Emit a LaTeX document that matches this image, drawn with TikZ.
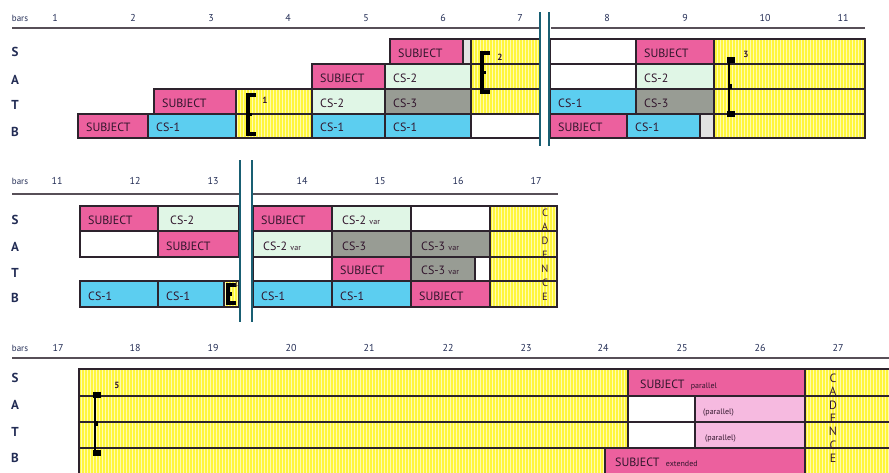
\documentclass[tikz,border=0pt]{standalone}
\usepackage{fontspec}
\setmainfont{PT Sans}
\usetikzlibrary{patterns}

\definecolor{subjc}{RGB}{236,96,158}
\definecolor{csonec}{RGB}{92,206,240}
\definecolor{cstwoc}{RGB}{224,246,230}
\definecolor{csthreec}{RGB}{152,156,148}
\definecolor{epic}{RGB}{255,246,60}
\definecolor{parc}{RGB}{246,186,224}
\definecolor{restc}{RGB}{226,226,226}
\definecolor{inkc}{RGB}{50,22,45}
\definecolor{navyc}{RGB}{35,45,85}
\definecolor{edgec}{RGB}{45,35,45}
\definecolor{barc}{RGB}{25,95,115}

\newcommand\smallword[1]{{\fontsize{8}{8}\selectfont #1}}

\begin{document}
\begin{tikzpicture}[x=1pt, y=-1pt,
    box/.style={draw=edgec, line width=1.1pt},
    blank/.style={box, fill=white},
    subj/.style={box, fill=subjc},
    csone/.style={box, fill=csonec},
    cstwo/.style={box, fill=cstwoc},
    csthree/.style={box, fill=csthreec},
    rest/.style={box, fill=restc},
    parl/.style={box, fill=parc},
    epi/.style={box, preaction={fill=epic},
        pattern=vertical lines, pattern color=white!60!epic},
    rule/.style={draw=edgec!80, line width=1.2pt},
    dbar/.style={draw=barc, line width=1.1pt},
    brk/.style={black, line width=3.2pt},
    lbl/.style={anchor=base west, inner sep=0pt, text=inkc,
        font=\fontsize{12}{12}\selectfont},
    barlbl/.style={inner sep=0pt, text=navyc, font=\fontsize{9}{9}\selectfont},
    barnum/.style={inner sep=0pt, text=navyc, font=\fontsize{10}{10}\selectfont},
    voice/.style={inner sep=0pt, text=navyc, font=\fontsize{13}{13}\bfseries},
    brknum/.style={inner sep=0pt, text=inkc, font=\fontsize{9}{9}\bfseries},
    cadlbl/.style={inner sep=0pt, text=inkc},
]

\useasboundingbox (0,0) rectangle (889,472);

% E-shaped bracket: x, top, bottom
\newcommand\brkE[3]{%
    \draw[brk] ({#1+8},#2) -- (#1,#2) -- (#1,#3) -- ({#1+8},#3);
    \draw[brk] (#1,{(#2+#3)/2}) -- ++(4,0);}
% bracket with square ends: x, top, bottom
\newcommand\brkQ[3]{%
    \draw[black, line width=2pt] (#1,#2) -- (#1,#3);
    \fill[black] ({#1-2},#2) rectangle ++(8,6);
    \fill[black] ({#1-2},{#3-6}) rectangle ++(8,6);
    \fill[black] ({#1-1},{(#2+#3)/2-3}) rectangle ++(4,5);}

% ── System 1 (bars 1-11) ────────────────────────────────────
\node[barlbl] (bars1) at (20,18) {bars};
\foreach \n/\x in {1/55, 2/133, 3/211, 4/288, 5/366, 6/443, 7/520,
                   8/607, 9/685, 10/765, 11/843}
    \node[barnum] (hA\n) at (\x,18) {\n};
\draw[rule] (12,28) -- (539,28);
\draw[rule] (551,28) -- (865,28);

\foreach \v/\y in {S/52, A/80, T/105, B/132}
    \node[voice] (vA\v) at (15,\y) {\v};

% empty boxes
\foreach \st/\xa/\xb/\ya/\yb in {rest/463/471/39/64, blank/471/540/114/138,
        blank/550/636/39/64, blank/550/636/64/89, rest/700/714/114/138,
        epi/236/312/89/114, epi/236/312/114/138,
        epi/471/540/39/64, epi/471/540/64/89, epi/471/540/89/114,
        epi/714/865/39/64, epi/714/865/64/89, epi/714/865/89/114,
        epi/714/865/114/138}
    \draw[\st] (\xa,\ya) rectangle (\xb,\yb);

% labelled entries
\foreach \st/\xa/\xb/\ya/\yb/\t [count=\i] in {
        subj/154/236/89/114/SUBJECT, cstwo/312/385/89/114/CS-2,
        csthree/385/471/89/114/CS-3,
        subj/78/148/114/138/SUBJECT, csone/148/236/114/138/CS-1,
        csone/312/385/114/138/CS-1, csone/385/471/114/138/CS-1,
        subj/312/385/64/89/SUBJECT, cstwo/385/471/64/89/CS-2,
        subj/390/463/39/64/SUBJECT,
        subj/636/714/39/64/SUBJECT, cstwo/636/714/64/89/CS-2,
        csone/550/636/89/114/CS-1, csthree/636/714/89/114/CS-3,
        subj/550/627/114/138/SUBJECT, csone/627/700/114/138/CS-1} {
    \draw[\st] (\xa,\ya) rectangle (\xb,\yb);
    \node[lbl] (eA\i) at (\xa+8,\yb-7) {\t};
}

\draw[dbar] (540,12) -- (540,146);
\draw[dbar] (549,12) -- (549,146);

\brkE{248}{95}{134}
\node[brknum] (nA1) at (265,100) {1};
\brkE{482}{53}{92}
\node[brknum] (nA2) at (500,57) {2};
\brkQ{729}{57}{117}
\node[brknum] (nA3) at (746,54) {3};

% ── System 2 (bars 11-17) ───────────────────────────────────
\node[barlbl] (bars2) at (20,181) {bars};
\foreach \n/\x in {11/57, 12/135, 13/213, 14/302, 15/380, 16/458, 17/536}
    \node[barnum] (hB\n) at (\x,181) {\n};
\draw[rule] (12,194) -- (239,194);
\draw[rule] (253,194) -- (558,194);

\foreach \v/\y in {S/220, A/247, T/273, B/298}
    \node[voice] (vB\v) at (15,\y) {\v};

\foreach \st/\xa/\xb/\ya/\yb in {blank/80/158/231/257, epi/224/239/281/307,
        blank/411/490/206/231, blank/253/332/257/281, blank/475/490/257/281,
        epi/490/557/206/231, epi/490/557/231/257, epi/490/557/257/281,
        epi/490/557/281/307}
    \draw[\st] (\xa,\ya) rectangle (\xb,\yb);

\foreach \st/\xa/\xb/\ya/\yb/\t [count=\i] in {
        subj/80/158/206/231/SUBJECT, cstwo/158/239/206/231/{\,\,CS-2},
        subj/158/239/231/257/SUBJECT,
        csone/80/158/281/307/CS-1, csone/158/224/281/307/CS-1,
        subj/253/332/206/231/SUBJECT,
        cstwo/332/411/206/231/{\,CS-2~\smallword{var}},
        cstwo/253/332/231/257/{\,CS-2~\smallword{var}},
        csthree/332/411/231/257/{\,CS-3},
        csthree/411/490/231/257/{\,CS-3~\smallword{var}},
        subj/332/411/257/281/SUBJECT,
        csthree/411/475/257/281/{\,CS-3~\smallword{var}},
        csone/253/332/281/307/CS-1, csone/332/411/281/307/CS-1,
        subj/411/490/281/307/SUBJECT} {
    \draw[\st] (\xa,\ya) rectangle (\xb,\yb);
    \node[lbl] (eB\i) at (\xa+8,\yb-7) {\t};
}

\foreach \c [count=\k] in {C,A,D,E,N,C,E}
    \node[cadlbl, font=\fontsize{10.5}{10.5}\selectfont]
        (cB\k) at (545,{213+14*(\k-1)}) {\c};

\draw[dbar] (240,160) -- (240,322);
\draw[dbar] (252,160) -- (252,322);

\brkE{228}{285}{303}
\node[brknum, font=\fontsize{7}{7}\selectfont] (nB4) at (236,285) {4};

% ── System 3 (bars 17-27) ───────────────────────────────────
\node[barlbl] (bars3) at (20,348) {bars};
\foreach \n/\x in {17/58, 18/135, 19/213, 20/291, 21/369, 22/448, 23/526,
                   24/603, 25/682, 26/760, 27/838}
    \node[barnum] (hC\n) at (\x,348) {\n};
\draw[rule] (12,358) -- (889,358);

\foreach \v/\y in {S/378, A/405, T/432, B/458}
    \node[voice] (vC\v) at (15,\y) {\v};

\foreach \st/\xa/\xb/\ya/\yb in {epi/79/628/369/396, epi/79/628/396/422,
        epi/79/628/422/448, epi/79/605/448/474,
        blank/628/695/396/422, blank/628/695/422/448,
        epi/805/895/369/396, epi/805/895/396/422, epi/805/895/422/448,
        epi/805/895/448/474}
    \draw[\st] (\xa,\ya) rectangle (\xb,\yb);

\foreach \st/\xa/\xb/\ya/\yb/\t [count=\i] in {
        subj/628/805/369/396/{\,\,SUBJECT~~\smallword{parallel}},
        parl/695/805/396/422/{\smallword{(parallel)}},
        parl/695/805/422/448/{\,\smallword{(parallel)}},
        subj/605/805/448/474/{\,SUBJECT~~\smallword{extended}}} {
    \draw[\st] (\xa,\ya) rectangle (\xb,\yb);
    \node[lbl] (eC\i) at (\xa+8,\yb-8) {\t};
}

\foreach \c [count=\k] in {C,A,D,E,N,C,E}
    \node[cadlbl, font=\fontsize{12}{12}\selectfont]
        (cC\k) at (833,{378+13.4*(\k-1)}) {\c};

\brkQ{95}{392}{456}
\node[brknum] (nC5) at (117,385) {5};

\end{tikzpicture}
\end{document}
